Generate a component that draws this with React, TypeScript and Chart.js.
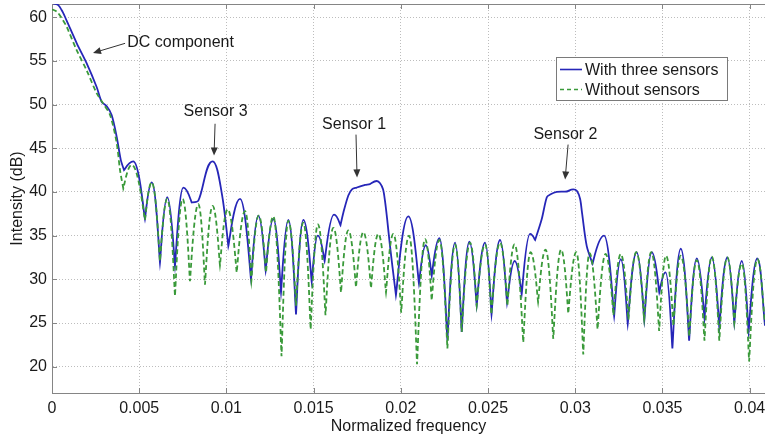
import React, { useEffect, useRef } from 'react';
import { Chart, registerables } from 'chart.js';

Chart.register(...registerables);

// ---- Data ----
const seriesNames = ['With three sensors', 'Without sensors'];

// "With three sensors" (blue, solid)
const withX = [
  0, 0.00034, 0.00061, 0.00084, 0.00142, 0.00199, 0.00256, 0.00285, 0.00314, 0.00342,
  0.00371, 0.00394, 0.00413, 0.00466, 0.00533, 0.00572, 0.00619, 0.00661, 0.00705, 0.00753,
  0.00801, 0.00839, 0.00921, 0.00973, 0.01011, 0.01078, 0.01141, 0.01183, 0.01225, 0.01269,
  0.01313, 0.01355, 0.01399, 0.01441, 0.01489, 0.01524, 0.01563, 0.01617, 0.01654, 0.0167,
  0.01699, 0.0172, 0.01747, 0.01795, 0.01823, 0.01862, 0.01881, 0.01898, 0.01909, 0.01921,
  0.01938, 0.01972, 0.02043, 0.02104, 0.02143, 0.02177, 0.02221, 0.02267, 0.02311, 0.02349,
  0.02393, 0.02435, 0.02483, 0.0252, 0.02569, 0.02609, 0.02653, 0.02693, 0.02741, 0.0277,
  0.02808, 0.02837, 0.02856, 0.02894, 0.02951, 0.02989, 0.0301, 0.03028, 0.03039, 0.03066,
  0.03099, 0.03165, 0.03223, 0.03261, 0.03301, 0.03352, 0.03396, 0.03439, 0.03482, 0.03518,
  0.03557, 0.03605, 0.03653, 0.03697, 0.03741, 0.03783, 0.03826, 0.03872, 0.03912, 0.03955,
  0.03994, 0.04044, 0.04088,
];
const withY = [
  61.6, 61.4, 60.6, 59.6, 57.0, 54.7, 52.0, 50.3, 49.8, 48.8,
  46.3, 43.7, 42.5, 43.5, 36.9, 41.1, 31.9, 39.4, 31.5, 40.5,
  38.8, 39.0, 43.5, 39.9, 33.8, 39.2, 30.0, 37.3, 31.0, 36.9,
  28.5, 36.8, 26.0, 36.8, 29.7, 35.0, 32.1, 37.4, 36.2, 37.6,
  39.6, 40.3, 40.5, 40.8, 40.9, 41.25, 41.0, 40.3, 39.0, 37.0,
  33.8, 28.2, 37.2, 29.5, 33.9, 30.4, 34.7, 23.0, 34.2, 24.0,
  34.3, 27.0, 34.2, 26.0, 34.5, 27.3, 32.1, 28.3, 35.2, 34.5,
  36.9, 39.4, 39.7, 40.0, 40.05, 40.3, 40.1, 39.2, 37.6, 33.8,
  31.8, 35.0, 25.8, 32.3, 24.9, 33.1, 25.3, 33.1, 28.5, 30.8,
  22.1, 33.5, 23.0, 32.4, 25.5, 32.5, 24.5, 32.5, 25.0, 32.1,
  24.0, 32.4, 24.7,
];

// "Without sensors" (green, dashed)
const withoutX = [
  0, 0.00029, 0.00061, 0.00084, 0.00142, 0.00199, 0.00256, 0.00294, 0.00333, 0.00371,
  0.0039, 0.00409, 0.00457, 0.00533, 0.00572, 0.00619, 0.00661, 0.00705, 0.00749, 0.00791,
  0.00839, 0.00877, 0.00921, 0.00963, 0.01007, 0.01059, 0.01107, 0.01143, 0.01185, 0.01227,
  0.01269, 0.01316, 0.01355, 0.01399, 0.01441, 0.01483, 0.01525, 0.01568, 0.01613, 0.01657,
  0.01699, 0.01743, 0.01785, 0.01829, 0.01871, 0.01915, 0.01957, 0.02002, 0.02047, 0.02093,
  0.02139, 0.02177, 0.02221, 0.02267, 0.02311, 0.02349, 0.02397, 0.02435, 0.02483, 0.02519,
  0.02569, 0.02611, 0.02652, 0.02702, 0.02744, 0.02787, 0.0283, 0.02874, 0.02919, 0.0296,
  0.03006, 0.03046, 0.03082, 0.03128, 0.03174, 0.03219, 0.03261, 0.03305, 0.0335, 0.03395,
  0.03436, 0.03481, 0.03521, 0.03563, 0.03605, 0.03654, 0.03697, 0.03741, 0.03783, 0.03826,
  0.03872, 0.03912, 0.03955, 0.03997, 0.04044, 0.04088,
];
const withoutY = [
  60.9, 60.6, 59.7, 58.9, 56.2, 53.9, 51.3, 50.1, 48.8, 45.6,
  42.5, 40.4, 43.1, 36.8, 41.1, 32.1, 39.2, 28.1, 39.2, 29.8,
  38.6, 29.4, 38.4, 31.6, 38.0, 30.8, 37.8, 29.8, 37.3, 30.8,
  37.2, 21.2, 36.7, 27.0, 36.5, 24.3, 36.3, 25.9, 35.9, 28.5,
  35.6, 29.1, 35.4, 29.0, 35.2, 28.5, 35.2, 26.2, 35.0, 20.3,
  34.6, 27.6, 34.5, 22.1, 34.0, 24.0, 34.2, 27.0, 34.0, 26.0,
  34.2, 27.0, 34.0, 22.8, 33.1, 27.4, 33.4, 23.2, 33.4, 26.1,
  33.1, 21.4, 33.0, 24.3, 32.9, 25.9, 32.9, 25.4, 33.1, 25.4,
  33.1, 24.1, 32.7, 24.7, 32.7, 23.5, 32.2, 23.0, 32.6, 23.0,
  32.5, 25.0, 31.8, 20.6, 32.3, 25.0,
];

// axis ranges / ticks
const xMin = 0;
const xMax = 0.04088;
const xStep = 0.005;
const yMin = 17;
const yMax = 61.5;
const yStep = 5;
const xTitle = 'Normalized frequency';
const yTitle = 'Intensity (dB)';

// annotations: label, label position (data), arrow start (data), arrow tip (data)
const annLabels = ['DC component', 'Sensor 3', 'Sensor 1', 'Sensor 2'];
const annTextX = [0.00737, 0.00938, 0.01732, 0.02944];
const annTextY = [57.04, 49.18, 47.7, 46.56];
const annFromX = [0.00419, 0.00935, 0.01743, 0.02959];
const annFromY = [57.0, 47.8, 46.56, 45.42];
const annToX = [0.00235, 0.00929, 0.01749, 0.02942];
const annToY = [55.9, 44.17, 41.66, 41.43];

const FONT = '"Liberation Sans", Arial, Helvetica, sans-serif';
const BLUE = '#2626b8';
const GREEN = '#3a9a3a';
const TEXT = '#1a1a1a';
const AXIS = '#858585';

function toPoints(xs: number[], ys: number[]) {
  return xs.map((x, i) => ({ x, y: ys[i] }));
}

// Shapes the curve: round arches at local maxima, sharp cusps at nulls
const lobeShapePlugin = {
  id: 'lobeShape',
  beforeDatasetDraw(chart: any, args: any) {
    const meta = args.meta;
    const line = meta.dataset;
    if (!line) return;
    line.updateControlPoints(chart.chartArea, 'x');
    const pts = meta.data;
    const kTop = 0.5;
    const kBot = 0.1;
    for (let i = 1; i < pts.length - 1; i++) {
      const a = pts[i - 1];
      const p = pts[i];
      const b = pts[i + 1];
      if (p.y > a.y && p.y > b.y) {
        // null (local minimum of value): cusp
        p.cp1x = p.x + kBot * (a.x - p.x);
        p.cp1y = p.y + kBot * (a.y - p.y);
        p.cp2x = p.x + kBot * (b.x - p.x);
        p.cp2y = p.y + kBot * (b.y - p.y);
      } else if (p.y < a.y && p.y < b.y) {
        // lobe top: broad, flat arch
        p.cp1x = p.x - kTop * (p.x - a.x);
        p.cp1y = p.y;
        p.cp2x = p.x + kTop * (b.x - p.x);
        p.cp2y = p.y;
      }
    }
  },
};

const overlayPlugin = {
  id: 'overlay',
  afterDatasetsDraw(chart: any) {
    const { ctx, chartArea } = chart;
    const xs = chart.scales.x;
    const ys = chart.scales.y;
    ctx.save();

    // inward tick marks (MATLAB style)
    ctx.strokeStyle = AXIS;
    ctx.lineWidth = 1;
    ctx.setLineDash([]);
    xs.ticks.forEach((t: any) => {
      const px = Math.round(xs.getPixelForValue(t.value)) + 0.5;
      ctx.beginPath();
      ctx.moveTo(px, chartArea.bottom);
      ctx.lineTo(px, chartArea.bottom - 5);
      ctx.moveTo(px, chartArea.top);
      ctx.lineTo(px, chartArea.top + 5);
      ctx.stroke();
    });
    ys.ticks.forEach((t: any) => {
      const py = Math.round(ys.getPixelForValue(t.value)) + 0.5;
      ctx.beginPath();
      ctx.moveTo(chartArea.left, py);
      ctx.lineTo(chartArea.left + 5, py);
      ctx.stroke();
    });

    // annotations
    ctx.font = `16px ${FONT}`;
    ctx.textAlign = 'center';
    ctx.textBaseline = 'middle';
    annLabels.forEach((label, i) => {
      const tx = xs.getPixelForValue(annTextX[i]);
      const ty = ys.getPixelForValue(annTextY[i]);
      ctx.fillStyle = TEXT;
      ctx.fillText(label, tx, ty);
      const x0 = xs.getPixelForValue(annFromX[i]);
      const y0 = ys.getPixelForValue(annFromY[i]);
      const x1 = xs.getPixelForValue(annToX[i]);
      const y1 = ys.getPixelForValue(annToY[i]);
      const ang = Math.atan2(y1 - y0, x1 - x0);
      const hl = 8;
      const hw = 3.5;
      ctx.strokeStyle = '#333';
      ctx.lineWidth = 1;
      ctx.beginPath();
      ctx.moveTo(x0, y0);
      ctx.lineTo(x1 - Math.cos(ang) * hl * 0.8, y1 - Math.sin(ang) * hl * 0.8);
      ctx.stroke();
      ctx.fillStyle = '#333';
      ctx.beginPath();
      ctx.moveTo(x1, y1);
      ctx.lineTo(
        x1 - Math.cos(ang) * hl - Math.sin(ang) * hw,
        y1 - Math.sin(ang) * hl + Math.cos(ang) * hw
      );
      ctx.lineTo(
        x1 - Math.cos(ang) * hl + Math.sin(ang) * hw,
        y1 - Math.sin(ang) * hl - Math.cos(ang) * hw
      );
      ctx.closePath();
      ctx.fill();
    });

    // legend box
    const lx = chartArea.left + 504;
    const ly = chartArea.top + 53;
    const lw = 171;
    const lh = 43;
    ctx.fillStyle = '#ffffff';
    ctx.fillRect(lx, ly, lw, lh);
    ctx.strokeStyle = '#7a7a7a';
    ctx.lineWidth = 1;
    ctx.strokeRect(lx + 0.5, ly + 0.5, lw, lh);
    const rows = [ly + 12.5, ly + 32.5];
    ctx.lineWidth = 1.6;
    ctx.strokeStyle = BLUE;
    ctx.beginPath();
    ctx.moveTo(lx + 4, rows[0]);
    ctx.lineTo(lx + 26, rows[0]);
    ctx.stroke();
    ctx.strokeStyle = GREEN;
    ctx.setLineDash([4, 3]);
    ctx.beginPath();
    ctx.moveTo(lx + 4, rows[1]);
    ctx.lineTo(lx + 26, rows[1]);
    ctx.stroke();
    ctx.setLineDash([]);
    ctx.fillStyle = TEXT;
    ctx.textAlign = 'left';
    ctx.textBaseline = 'middle';
    ctx.font = `16px ${FONT}`;
    ctx.fillText(seriesNames[0], lx + 29, rows[0] + 1);
    ctx.fillText(seriesNames[1], lx + 29, rows[1] + 1);

    ctx.restore();
  },
};

export default function App() {
  const canvasRef = useRef<HTMLCanvasElement | null>(null);

  useEffect(() => {
    const canvas = canvasRef.current;
    if (!canvas) return;
    const tickFont = { family: FONT, size: 16 };
    const chart = new Chart(canvas, {
      type: 'line',
      data: {
        datasets: [
          {
            label: seriesNames[0],
            data: toPoints(withX, withY),
            borderColor: BLUE,
            borderWidth: 1.8,
            pointRadius: 0,
            tension: 0.3,
            fill: false,
            order: 2,
          },
          {
            label: seriesNames[1],
            data: toPoints(withoutX, withoutY),
            borderColor: GREEN,
            borderWidth: 1.8,
            borderDash: [5, 3],
            pointRadius: 0,
            tension: 0.3,
            fill: false,
            order: 1,
          },
        ],
      },
      options: {
        responsive: false,
        animation: false,
        devicePixelRatio: 1,
        layout: { padding: { top: 4, right: 0, left: 0, bottom: 0 } },
        plugins: { legend: { display: false }, tooltip: { enabled: false } },
        scales: {
          x: {
            type: 'linear',
            position: 'bottom',
            min: xMin,
            max: xMax,
            ticks: {
              stepSize: xStep,
              includeBounds: false,
              color: TEXT,
              font: tickFont,
              padding: 6,
              maxRotation: 0,
              autoSkip: false,
              callback: (v: any) => String(Math.round(Number(v) * 1000) / 1000),
            },
            grid: { color: '#bdbdbd', lineWidth: 1, drawTicks: false },
            border: { display: true, color: AXIS, width: 1, dash: [1, 2] },
            title: {
              display: true,
              text: xTitle,
              color: TEXT,
              font: { family: FONT, size: 16, lineHeight: 1.2 },
              padding: { top: 0, bottom: 1 },
            },
            afterFit: (s: any) => {
              s.height = 44;
              s.paddingLeft = 0;
              s.paddingRight = 0;
            },
          },
          x2: {
            type: 'linear',
            position: 'top',
            min: xMin,
            max: xMax,
            ticks: { display: false },
            grid: { display: false, drawTicks: false },
            border: { display: true, color: AXIS, width: 1 },
            afterFit: (s: any) => {
              s.height = 0;
              s.paddingLeft = 0;
              s.paddingRight = 0;
            },
          },
          y: {
            type: 'linear',
            min: yMin,
            max: yMax,
            ticks: {
              stepSize: yStep,
              includeBounds: false,
              color: TEXT,
              font: tickFont,
              padding: 5,
            },
            grid: { color: '#bdbdbd', lineWidth: 1, drawTicks: false },
            border: { display: true, color: AXIS, width: 1, dash: [1, 2] },
            title: {
              display: true,
              text: yTitle,
              color: TEXT,
              font: { family: FONT, size: 16, lineHeight: 1.2 },
              padding: { top: 8, bottom: 0 },
            },
            afterFit: (s: any) => {
              s.width = 52;
              s.paddingTop = 0;
              s.paddingBottom = 0;
            },
          },
        },
      },
      plugins: [lobeShapePlugin, overlayPlugin],
    });
    return () => chart.destroy();
  }, []);

  return (
    <div
      style={{
        position: 'fixed',
        left: 0,
        top: 0,
        width: 765,
        height: 437,
        background: '#ffffff',
      }}
    >
      <canvas ref={canvasRef} width={765} height={437} style={{ display: 'block', width: 765, height: 437 }} />
    </div>
  );
}
